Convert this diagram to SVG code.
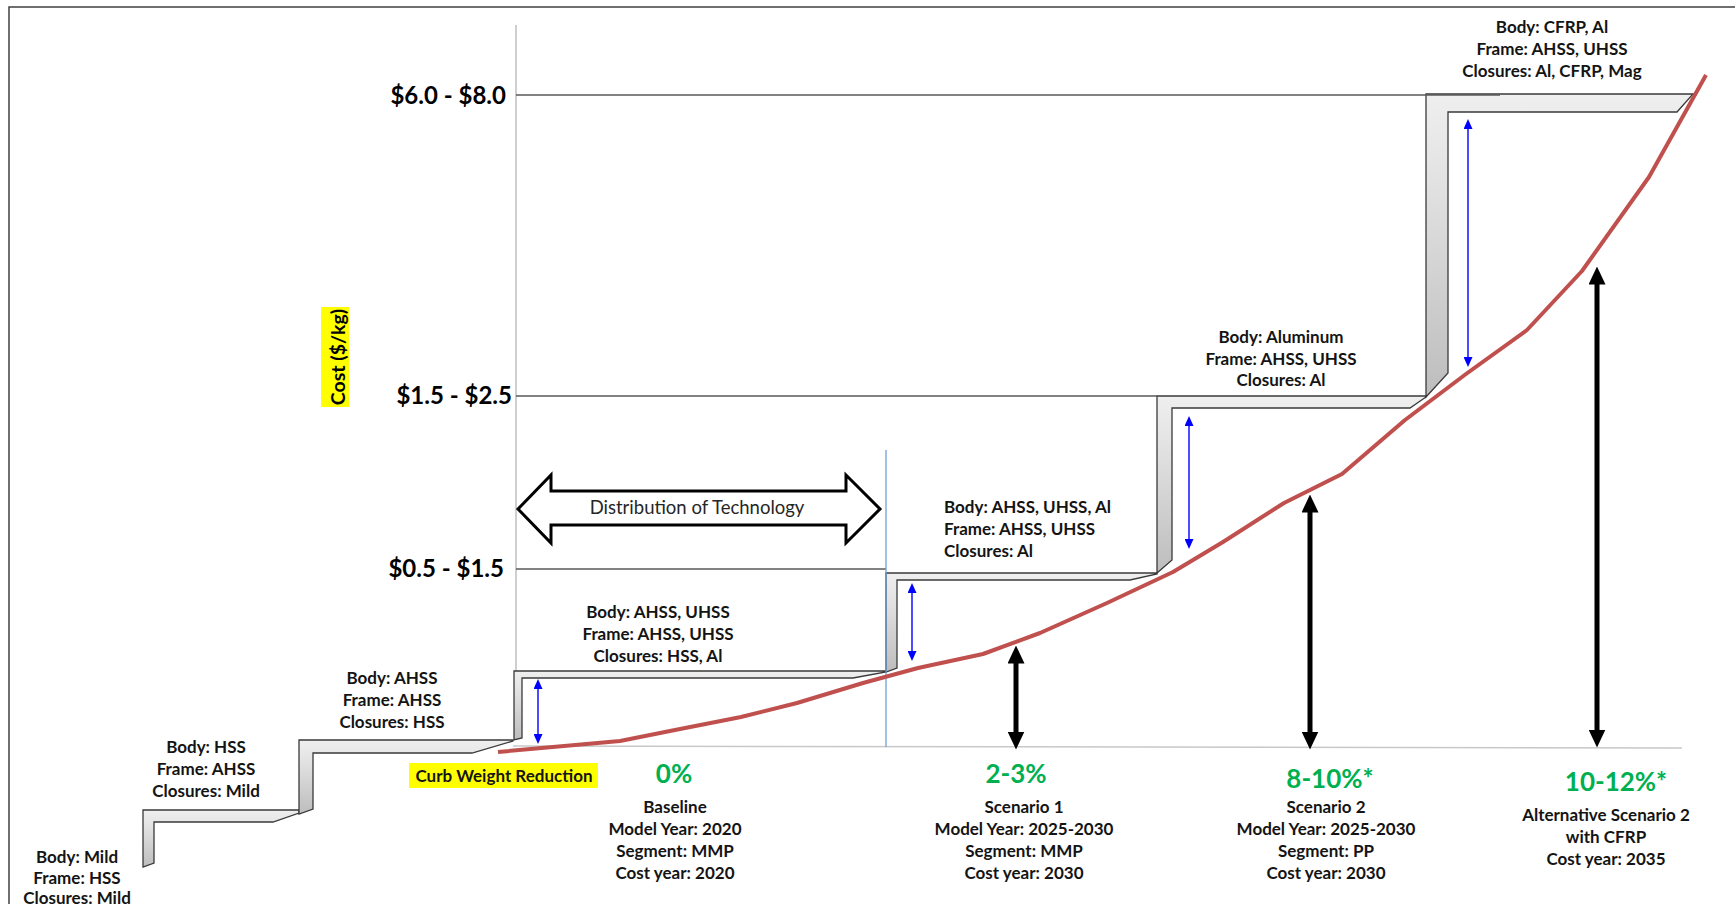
<svg xmlns="http://www.w3.org/2000/svg" width="1735" height="904" viewBox="0 0 1735 904">
<defs>
<style>
text{font-family:Lato,'Liberation Sans',sans-serif;}
.lb{font-size:17px;font-weight:bold;fill:#141414;text-anchor:middle}
.lbl{font-size:17px;font-weight:bold;fill:#141414;text-anchor:start}
.ax{font-size:24px;font-weight:bold;fill:#000;text-anchor:end}
.pc{font-size:26px;font-weight:bold;fill:#00B050;text-anchor:middle}
.grid{stroke:#595959;stroke-width:1.5;fill:none}
.step{fill:url(#sg);stroke:#3a3a3a;stroke-width:1.3;stroke-linejoin:miter}
.blue{stroke:#0000FF;stroke-width:1.4;fill:none;marker-start:url(#bh);marker-end:url(#bh)}
.blk{stroke:#000;stroke-width:5;fill:none;marker-start:url(#kh);marker-end:url(#kh)}
</style>
<linearGradient id="sg" x1="0" y1="0" x2="0" y2="1">
<stop offset="0" stop-color="#efefef"/>
<stop offset="0.25" stop-color="#e4e4e4"/>
<stop offset="1" stop-color="#bdbdbd"/>
</linearGradient>
<marker id="bh" viewBox="0 0 10 9" refX="0" refY="4.5" markerWidth="10" markerHeight="9" markerUnits="userSpaceOnUse" orient="auto-start-reverse">
<path d="M0,0 L10,4.5 L0,9 z" fill="#0000FF"/>
</marker>
<marker id="kh" viewBox="0 0 18 17" refX="0.5" refY="8.5" markerWidth="18" markerHeight="17" markerUnits="userSpaceOnUse" orient="auto-start-reverse">
<path d="M0,0 L18,8.5 L0,17 z" fill="#000"/>
</marker>
</defs>

<rect width="1735" height="904" fill="#fff"/>

<g id="frame">
<path d="M9,904 L9,7 L1735,7" fill="none" stroke="#404040" stroke-width="1.5"/>
</g>

<g id="axes">
<line x1="516" y1="25" x2="516" y2="671" stroke="#bfbfbf" stroke-width="1.5"/>
<line x1="513" y1="746" x2="1682" y2="748" stroke="#c8c8c8" stroke-width="1.5"/>
<rect x="321" y="307" width="28" height="100" fill="#FFFF00"/>
<text transform="translate(345,357) rotate(-90)" style="font-size:19.5px;font-weight:bold;text-anchor:middle" fill="#000">Cost ($/kg)</text>
<text class="ax" x="506" y="104">$6.0 - $8.0</text>
<text class="ax" x="512" y="404">$1.5 - $2.5</text>
<text class="ax" x="504" y="577">$0.5 - $1.5</text>
</g>

<g id="steps">
<g id="step-a"><polygon class="step" points="143,867 143,810 299,810 299,813 273,822 154,822 154,863"/></g>
<g id="step-b"><polygon class="step" points="299,814 299,740 513,740 513,741 472,753 313,753 313,809"/></g>
<g id="step-c"><polygon class="step" points="514,740 514,671 886,671 886,672 853,678 522,678 522,738"/></g>
<g id="step-d"><polygon class="step" points="886,672 886,573 1157,573 1157,574 1130,580 897,580 897,668"/></g>
<g id="step-e"><polygon class="step" points="1157,573 1157,396 1426,396 1426,397 1410,408 1172,408 1172,560"/></g>
<g id="step-f"><polygon class="step" points="1426,397 1426,94 1693,94 1677,112 1448,112 1448,373"/></g>
</g>

<g id="gridlines">
<line class="grid" x1="516" y1="95" x2="1500" y2="95"/>
<line class="grid" x1="516" y1="396" x2="1157" y2="396"/>
<line class="grid" x1="516" y1="569" x2="886" y2="569"/>
</g>

<g id="distribution">
<polygon points="518,509 551,475 551,491 846,491 846,475 880,509 846,543 846,525 551,525 551,543" fill="#fff" stroke="#000" stroke-width="3" stroke-linejoin="miter"/>
<text x="697" y="514" style="font-size:18.5px;text-anchor:middle" fill="#262626">Distribution of Technology</text>
</g>

<g id="connectors">
<line x1="886" y1="450" x2="886" y2="747" stroke="#6fa0d6" stroke-width="1.3"/>
<polyline points="498,752 620,741 675,730 741,717 797,703 863,683 918,668 983,654 1040,633 1107,603 1173,572 1223,542 1284,503 1342,474 1405,420 1466,374 1527,330 1582,271 1649,177 1706,75" fill="none" stroke="#C0504D" stroke-width="4" stroke-linejoin="round"/>
<line class="blue" x1="538" y1="689" x2="538" y2="734"/>
<line class="blue" x1="912" y1="593" x2="912" y2="651"/>
<line class="blue" x1="1189" y1="426" x2="1189" y2="539"/>
<line class="blue" x1="1468" y1="129" x2="1468" y2="357"/>
<line class="blk" x1="1016" y1="663" x2="1016" y2="732"/>
<line class="blk" x1="1310" y1="512" x2="1310" y2="732"/>
<line class="blk" x1="1597" y1="284" x2="1597" y2="730"/>
</g>

<g id="label-a">
<text class="lb" x="77" y="863">Body: Mild</text>
<text class="lb" x="77" y="884">Frame: HSS</text>
<text class="lb" x="77" y="904">Closures: Mild</text>
</g>
<g id="label-b">
<text class="lb" x="206" y="753">Body: HSS</text>
<text class="lb" x="206" y="775">Frame: AHSS</text>
<text class="lb" x="206" y="797">Closures: Mild</text>
</g>
<g id="label-c">
<text class="lb" x="392" y="684">Body: AHSS</text>
<text class="lb" x="392" y="706">Frame: AHSS</text>
<text class="lb" x="392" y="728">Closures: HSS</text>
</g>
<g id="label-d">
<text class="lb" x="658" y="618">Body: AHSS, UHSS</text>
<text class="lb" x="658" y="640">Frame: AHSS, UHSS</text>
<text class="lb" x="658" y="662">Closures: HSS, Al</text>
</g>
<g id="label-e">
<text class="lbl" x="944" y="513">Body: AHSS, UHSS, Al</text>
<text class="lbl" x="944" y="535">Frame: AHSS, UHSS</text>
<text class="lbl" x="944" y="557">Closures: Al</text>
</g>
<g id="label-f">
<text class="lb" x="1281" y="343">Body: Aluminum</text>
<text class="lb" x="1281" y="365">Frame: AHSS, UHSS</text>
<text class="lb" x="1281" y="386">Closures: Al</text>
</g>
<g id="label-g">
<text class="lb" x="1552" y="33">Body: CFRP, Al</text>
<text class="lb" x="1552" y="55">Frame: AHSS, UHSS</text>
<text class="lb" x="1552" y="77">Closures: Al, CFRP, Mag</text>
</g>

<g id="curb">
<rect x="409" y="763" width="189" height="25" fill="#FFFF00"/>
<text class="lb" x="504" y="782" fill="#000">Curb Weight Reduction</text>
</g>

<g id="baseline">
<text class="pc" x="674" y="783">0%</text>
<text class="lb" x="675" y="813">Baseline</text>
<text class="lb" x="675" y="835">Model Year: 2020</text>
<text class="lb" x="675" y="857">Segment: MMP</text>
<text class="lb" x="675" y="879">Cost year: 2020</text>
</g>
<g id="scenario1">
<text class="pc" x="1016" y="783">2-3%</text>
<text class="lb" x="1024" y="813">Scenario 1</text>
<text class="lb" x="1024" y="835">Model Year: 2025-2030</text>
<text class="lb" x="1024" y="857">Segment: MMP</text>
<text class="lb" x="1024" y="879">Cost year: 2030</text>
</g>
<g id="scenario2">
<text class="pc" x="1330" y="788">8-10%*</text>
<text class="lb" x="1326" y="813">Scenario 2</text>
<text class="lb" x="1326" y="835">Model Year: 2025-2030</text>
<text class="lb" x="1326" y="857">Segment: PP</text>
<text class="lb" x="1326" y="879">Cost year: 2030</text>
</g>
<g id="scenario-alt">
<text class="pc" x="1616" y="791">10-12%*</text>
<text class="lb" x="1606" y="821">Alternative Scenario 2</text>
<text class="lb" x="1606" y="843">with CFRP</text>
<text class="lb" x="1606" y="865">Cost year: 2035</text>
</g>
</svg>
